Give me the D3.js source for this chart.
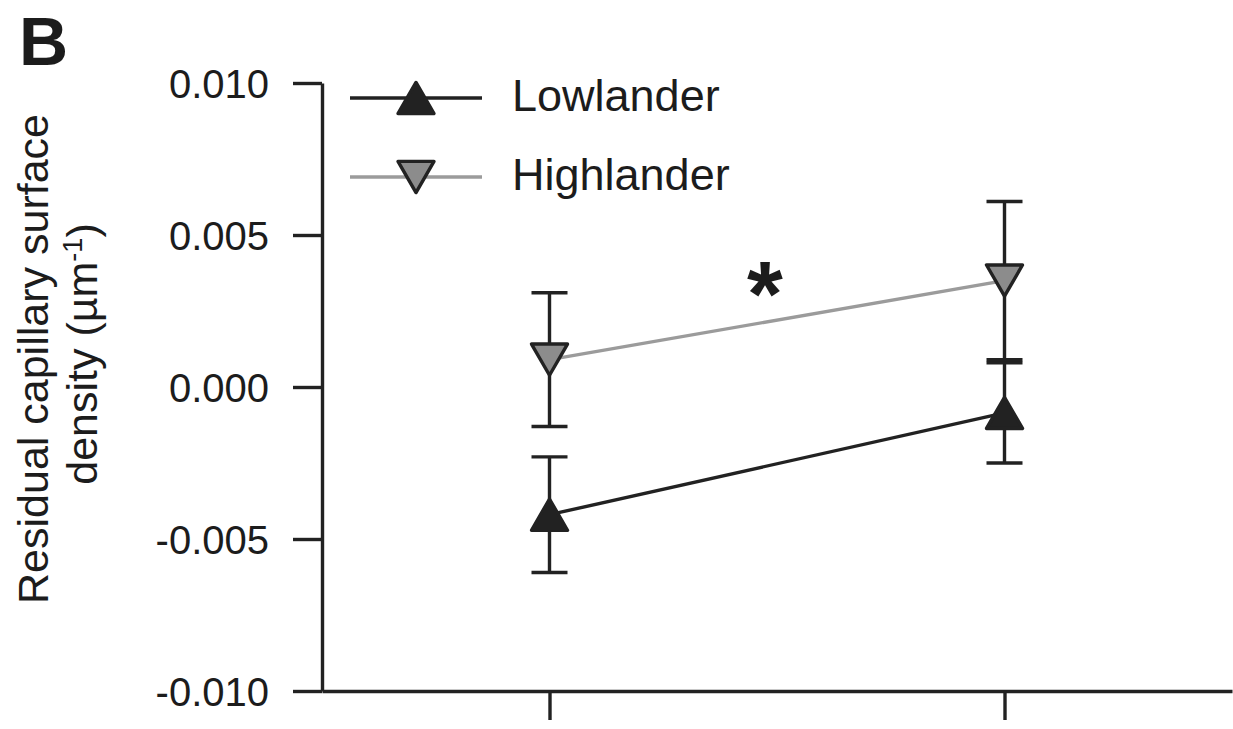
<!DOCTYPE html>
<html>
<head>
<meta charset="utf-8">
<script src="https://cdn.jsdelivr.net/npm/d3@7"></script>
<style>
  body { margin: 0; background: #fff; }
  text { font-family: "Liberation Sans", Arial, sans-serif; fill: #1c1c1c; }
</style>
</head>
<body>
<div id="chart"></div>
<script>
// data
var categories = ["Condition 1", "Condition 2"];
var lowlanderMean = [-0.0042, -0.00085];
var lowlanderErr = [0.0019, 0.00165];
var highlanderMean = [0.0009, 0.0035];
var highlanderErr = [0.0022, 0.0026];
var yTicks = [-0.010, -0.005, 0.000, 0.005, 0.010];
var seriesNames = ["Lowlander", "Highlander"];

var width = 1233, height = 729;
var ink = "#222";
var sw = 3.4;
var triSide = 36;
var triH = triSide * Math.sqrt(3) / 2;

var svg = d3.select("#chart").append("svg")
    .attr("width", width)
    .attr("height", height);

var x = d3.scalePoint().domain(categories).range([322, 1232]).padding(0.5);
var y = d3.scaleLinear().domain([-0.010, 0.010]).range([691, 83]);

// plain hyphen for negatives, like the original
var fmt = function(d) { return d3.format(".3f")(d).replace("\u2212", "-"); };

// axes
var yAxis = svg.append("g")
    .attr("transform", "translate(322,0)")
    .call(d3.axisLeft(y).tickValues(yTicks).tickSize(29).tickSizeOuter(0).tickPadding(24)
        .tickFormat(fmt));
yAxis.selectAll("text").style("font-size", "40px").attr("dy", "0.35em");

var xAxis = svg.append("g")
    .attr("transform", "translate(0,691)")
    .call(d3.axisBottom(x).tickSize(29).tickSizeOuter(0).tickFormat(""));

svg.selectAll(".domain, .tick line")
    .attr("stroke", ink)
    .attr("stroke-width", sw);

// y title
svg.append("text")
    .attr("transform", "translate(48,359) rotate(-90)")
    .attr("text-anchor", "middle")
    .style("font-size", "43px")
    .text("Residual capillary surface");

var t2 = svg.append("text")
    .attr("transform", "translate(97,354) rotate(-90)")
    .attr("text-anchor", "middle")
    .style("font-size", "43px");
t2.append("tspan").text("density (\u00b5m");
t2.append("tspan").attr("dy", "-15").style("font-size", "27px").text("-1");
t2.append("tspan").attr("dy", "15").text(")");

// panel letter
svg.append("text")
    .attr("x", 19).attr("y", 65)
    .style("font-size", "68px")
    .style("font-weight", "bold")
    .text("B");

var series = [
    { name: seriesNames[0], mean: lowlanderMean, err: lowlanderErr, line: ink, fill: ink, up: true },
    { name: seriesNames[1], mean: highlanderMean, err: highlanderErr, line: "#9b9b9b", fill: "#8c8c8c", up: false }
];

var tri = d3.symbol().type(d3.symbolTriangle).size(Math.sqrt(3) / 4 * triSide * triSide);

function marker(g, s, cx, cy) {
    // centre the triangle's box on the value, not its centroid
    var off = s.up ? triH / 6 : -triH / 6;
    g.append("path")
        .attr("d", tri)
        .attr("transform", "translate(" + cx + "," + (cy + off) + ")" + (s.up ? "" : " rotate(180)"))
        .attr("fill", s.fill)
        .attr("stroke", ink)
        .attr("stroke-width", sw)
        .attr("stroke-linejoin", "round");
}

var plot = svg.append("g");

// error bars
series.forEach(function(s) {
    categories.forEach(function(c, i) {
        var cx = x(c);
        var hi = y(s.mean[i] + s.err[i]), lo = y(s.mean[i] - s.err[i]);
        plot.append("line").attr("x1", cx).attr("x2", cx).attr("y1", hi).attr("y2", lo)
            .attr("stroke", ink).attr("stroke-width", sw);
        [hi, lo].forEach(function(yy) {
            plot.append("line").attr("x1", cx - 18).attr("x2", cx + 18).attr("y1", yy).attr("y2", yy)
                .attr("stroke", ink).attr("stroke-width", sw);
        });
    });
});

// connecting lines
var line = d3.line()
    .x(function(d, i) { return x(categories[i]); })
    .y(function(d) { return y(d); });

series.forEach(function(s) {
    plot.append("path")
        .attr("d", line(s.mean))
        .attr("fill", "none")
        .attr("stroke", s.line)
        .attr("stroke-width", sw);
});

series.forEach(function(s) {
    categories.forEach(function(c, i) {
        marker(plot, s, x(c), y(s.mean[i]));
    });
});

// significance star
svg.append("text")
    .attr("x", 765).attr("y", 326)
    .attr("text-anchor", "middle")
    .style("font-size", "92px")
    .style("font-weight", "bold")
    .text("*");

// legend
var legend = svg.append("g");
var legendY = [98, 177];
series.forEach(function(s, i) {
    legend.append("line")
        .attr("x1", 350).attr("x2", 482)
        .attr("y1", legendY[i]).attr("y2", legendY[i])
        .attr("stroke", s.line).attr("stroke-width", sw);
    marker(legend, s, 416, legendY[i]);
    legend.append("text")
        .attr("x", 512).attr("y", legendY[i] + 13)
        .style("font-size", "45px")
        .text(s.name);
});
</script>
</body>
</html>
